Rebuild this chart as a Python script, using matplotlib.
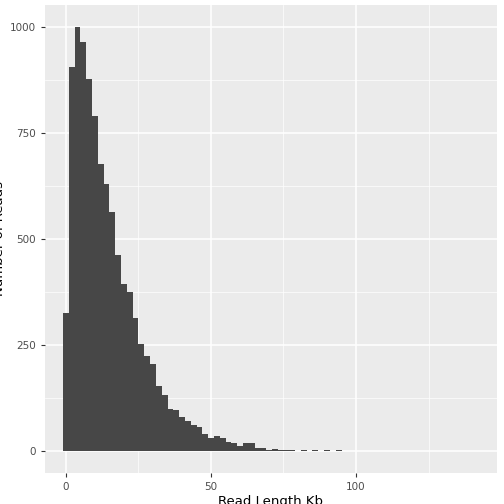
import matplotlib
matplotlib.use("Agg")
import matplotlib.pyplot as plt
import numpy as np

centers = [0,2,4,6,8,10,12,14,16,18,20,22,24,26,28,30,32,34,36,38,40,42,44,46,48,50,52,54,56,58,60,62,64,66,68,70,72,
           74,76,78,80,82,84,86,88,90,92,94,98,108,140]
counts = [325,905,1000,965,877,789,678,630,564,462,394,375,314,253,224,205,153,132,99,97,80,71,61,57,40,31,35,31,21,19,12,19,19,7,7,3,5,
          2,2,2,1,2,1,2,1,2,1,2,1,1,1]

fig = plt.figure(figsize=(5.04,5.04), dpi=100)
ax = fig.add_axes([45/504, 31/504, 452/504, 468/504])
ax.set_facecolor("#EBEBEB")
ax.bar(centers, counts, width=2.05, color="#474747", linewidth=0, zorder=3)
ax.set_xlim(-7.2, 148.6)
ax.set_ylim(-52, 1052)
ax.set_xticks([0,50,100])
ax.set_yticks([0,250,500,750,1000])
ax.set_xticks([25,75,125], minor=True)
ax.set_yticks([125,375,625,875], minor=True)
ax.grid(which="major", color="white", linewidth=1.1, zorder=0)
ax.grid(which="minor", color="white", linewidth=0.5, zorder=0)
ax.set_axisbelow(True)
for s in ax.spines.values():
    s.set_visible(False)
ax.tick_params(which="major", length=3, color="#333333", labelsize=7.5, labelcolor="#4D4D4D")
ax.tick_params(which="minor", length=0)
ax.set_xlabel("Read Length Kb", fontsize=9.5, labelpad=2)
ax.set_ylabel("Number of Reads", fontsize=9.5, labelpad=3)
fig.savefig("out.png", dpi=100)
